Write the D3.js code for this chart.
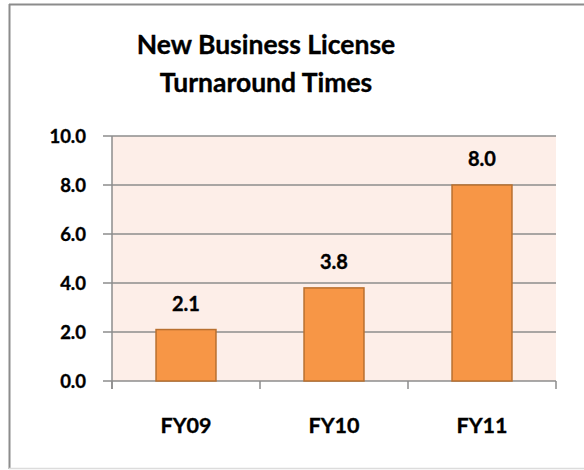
<html>
<head>
    <meta charset="utf-8"/>
    <script src="https://d3js.org/d3.v7.min.js"></script>
</head>
<style>
    body { margin: 0; background: #fff; }
    svg { display: block; }
    text { font-family: Lato, "Open Sans", sans-serif; font-weight: bold; fill: #000; stroke: #000; stroke-width: 0.35px; }
</style>
<body>
<svg class="main" width="584" height="470"></svg>
</body>

<script>
    var categories = ["FY09", "FY10", "FY11"]
    var values = [2.1, 3.8, 8.0]
    var yTicks = [0, 2, 4, 6, 8, 10]
    var titleLines = ["New Business License", "Turnaround Times"]

    var svg = d3.select("svg.main")

    // outer chart frame (right edge runs off the picture)
    svg.append("line")
        .attr("x1", 9).attr("x2", 584).attr("y1", 4.5).attr("y2", 4.5)
        .attr("stroke", "#8c8c8c").attr("stroke-width", 2)
    svg.append("line")
        .attr("x1", 9.5).attr("x2", 9.5).attr("y1", 4).attr("y2", 469)
        .attr("stroke", "#8c8c8c").attr("stroke-width", 2)
    svg.append("line")
        .attr("x1", 9).attr("x2", 584).attr("y1", 468.5).attr("y2", 468.5)
        .attr("stroke", "#dcdcdc").attr("stroke-width", 1.5)

    var x = d3.scaleBand()
        .domain(categories)
        .range([112, 556])
        .paddingInner(0.595)
        .paddingOuter(0.2975)

    var y = d3.scaleLinear()
        .domain([0, 10])
        .range([381, 136])

    // plot background
    svg.append("rect")
        .attr("x", 112).attr("y", y(10))
        .attr("width", 556 - 112).attr("height", y(0) - y(10))
        .attr("fill", "#fdeee8")

    // gridlines
    svg.append("g")
        .selectAll("line")
        .data(yTicks)
        .enter()
        .append("line")
        .attr("x1", 103).attr("x2", 556)
        .attr("y1", function (d) { return y(d) })
        .attr("y2", function (d) { return y(d) })
        .attr("stroke", "#8c8c8c")
        .attr("stroke-width", 1.5)

    // y axis line
    svg.append("line")
        .attr("x1", 112).attr("x2", 112)
        .attr("y1", y(10)).attr("y2", y(0) + 8)
        .attr("stroke", "#8c8c8c")
        .attr("stroke-width", 1.5)

    // category ticks
    var step = x.step()
    var edges = [112, 112 + step, 112 + step * 2, 112 + step * 3]
    svg.append("g")
        .selectAll("line")
        .data(edges)
        .enter()
        .append("line")
        .attr("x1", function (d) { return d }).attr("x2", function (d) { return d })
        .attr("y1", y(0)).attr("y2", y(0) + 8)
        .attr("stroke", "#8c8c8c")
        .attr("stroke-width", 1.5)

    // y tick labels
    svg.append("g")
        .selectAll("text")
        .data(yTicks)
        .enter()
        .append("text")
        .attr("x", 86)
        .attr("y", function (d) { return y(d) })
        .attr("dy", "0.36em")
        .attr("text-anchor", "end")
        .style("font-size", "18.5px")
        .text(function (d) { return d3.format(".1f")(d) })

    // bars
    svg.append("g")
        .selectAll("rect")
        .data(values)
        .enter()
        .append("rect")
        .attr("x", function (d, i) { return x(categories[i]) })
        .attr("y", function (d) { return y(d) })
        .attr("width", x.bandwidth())
        .attr("height", function (d) { return y(0) - y(d) })
        .attr("fill", "#f79646")
        .attr("stroke", "#b9702f")
        .attr("stroke-width", 1.5)

    // value labels
    svg.append("g")
        .selectAll("text")
        .data(values)
        .enter()
        .append("text")
        .attr("x", function (d, i) { return x(categories[i]) + x.bandwidth() / 2 })
        .attr("y", function (d) { return y(d) - 19 })
        .attr("text-anchor", "middle")
        .style("font-size", "20px")
        .text(function (d) { return d3.format(".1f")(d) })

    // category labels
    svg.append("g")
        .selectAll("text")
        .data(categories)
        .enter()
        .append("text")
        .attr("x", function (d) { return x(d) + x.bandwidth() / 2 })
        .attr("y", 433)
        .attr("text-anchor", "middle")
        .style("font-size", "21.5px")
        .text(function (d) { return d })

    // title
    svg.append("g")
        .selectAll("text")
        .data(titleLines)
        .enter()
        .append("text")
        .attr("x", 266)
        .attr("y", function (d, i) { return 54 + i * 38 })
        .attr("text-anchor", "middle")
        .style("font-size", "26.5px")
        .text(function (d) { return d })
</script>
</html>
